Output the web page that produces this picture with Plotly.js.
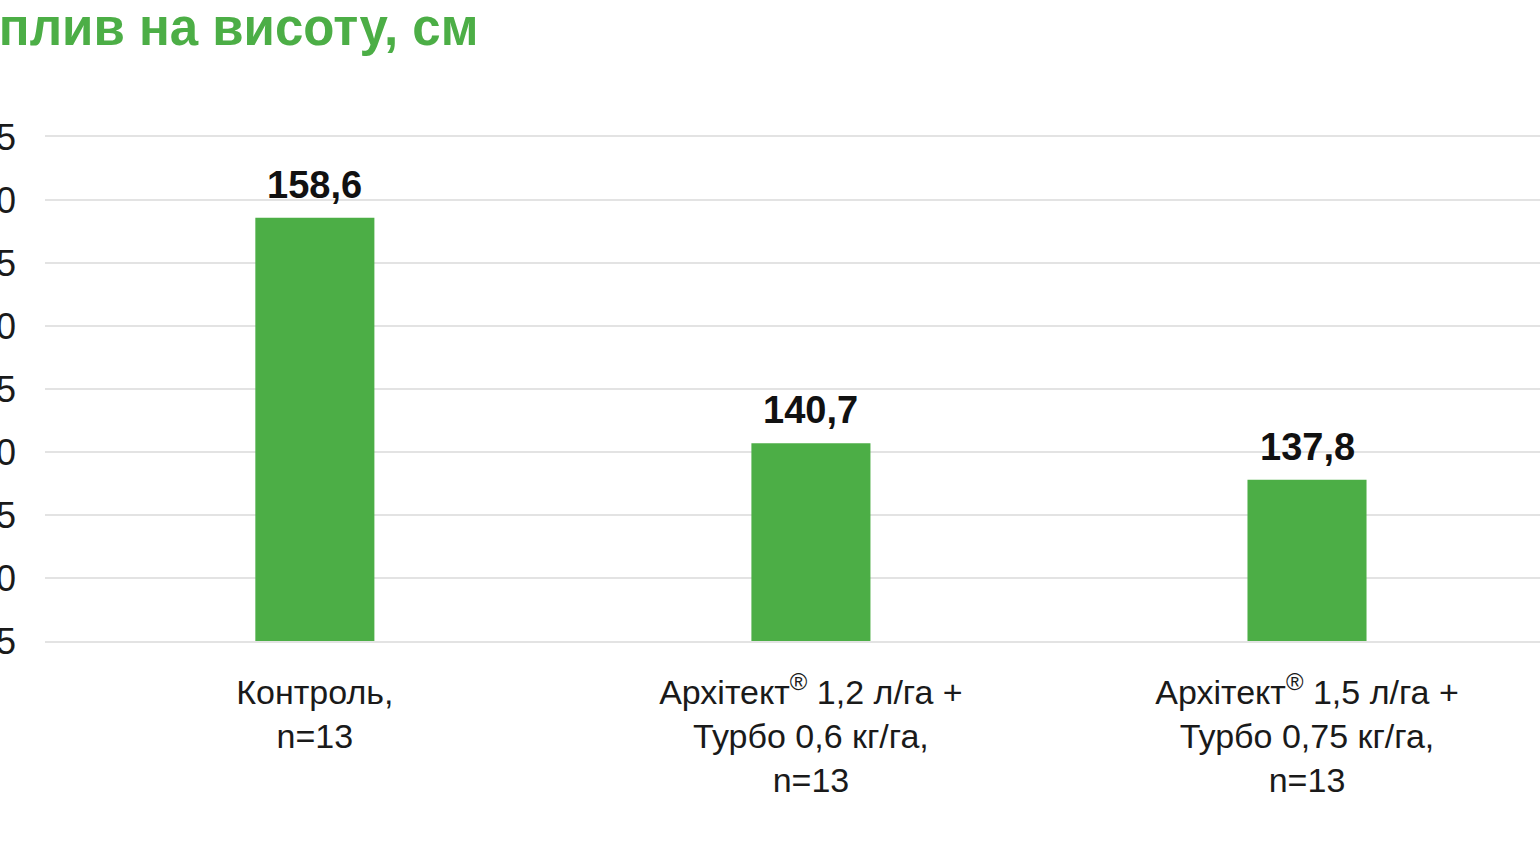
<!DOCTYPE html>
<html>
<head>
<meta charset="utf-8">
<script src="https://cdn.plot.ly/plotly-3.0.1.min.js"></script>
<style>
   body { margin: 0; overflow: hidden; background: #ffffff; }
   #plot { position: absolute; left: -100px; top: 0; width: 1700px; height: 866px; }
</style>
</head>
<body>
<div id="plot"></div>
<script>
// treatments and mean plant height, cm
var categories = [
   'Контроль,<br>n=13',
   'Архітект<sup>®</sup> 1,2 л/га +<br>Турбо 0,6 кг/га,<br>n=13',
   'Архітект<sup>®</sup> 1,5 л/га +<br>Турбо 0,75 кг/га,<br>n=13'
]
var heights = [158.6, 140.7, 137.8]
var tick_values = [125, 130, 135, 140, 145, 150, 155, 160, 165]

var green = '#4cae46'
var grid_grey = '#e3e3e3'
var label_text = heights.map(function(v) { return v.toFixed(1).replace('.', ',') })

var plotDiv = document.getElementById('plot')

var bar_trace = {
   type: 'bar',
   x: [0, 1, 2],
   y: heights,
   width: 0.24,
   marker: {color: green, line: {width: 0}},
   hoverinfo: 'x+y'
}

// value labels sit on top of each bar, a bit higher than plotly's own outside text
var value_labels = heights.map(function(v, i) {
   return {
      x: i,
      y: v,
      xref: 'x',
      yref: 'y',
      text: '<b>' + label_text[i] + '</b>',
      showarrow: false,
      yanchor: 'bottom',
      yshift: 10,
      font: {family: 'Liberation Sans', size: 38, color: '#111111'}
   }
})

var layout = {
   title: {
      text: '<b>Вплив на висоту, см</b>',
      font: {family: 'Liberation Sans', size: 51, color: green},
      x: 0,
      xref: 'container',
      xanchor: 'left',
      y: 0.969,
      yref: 'container',
      yanchor: 'middle',
      pad: {l: 62}
   },
   showlegend: false,
   margin: {l: 145, r: 40, t: 137, b: 225},
   paper_bgcolor: '#ffffff',
   plot_bgcolor: '#ffffff',
   annotations: value_labels,
   xaxis: {
      range: [-0.544, 2.51],
      tickmode: 'array',
      tickvals: [0, 1, 2],
      ticktext: categories,
      showgrid: false,
      zeroline: false,
      showline: true,
      mirror: true,
      linecolor: grid_grey,
      linewidth: 2,
      ticks: '',
      ticklabelstandoff: 20,
      tickfont: {family: 'Liberation Sans', size: 34, color: '#1a1a1a'}
   },
   yaxis: {
      range: [125, 165],
      tickmode: 'array',
      tickvals: tick_values,
      showgrid: true,
      gridcolor: grid_grey,
      gridwidth: 2,
      zeroline: false,
      showline: false,
      ticks: '',
      ticklabelstandoff: 28,
      tickfont: {family: 'Liberation Sans', size: 36, color: '#1a1a1a'}
   }
}

Plotly.newPlot(plotDiv, [bar_trace], layout, {displayModeBar: false, staticPlot: true})
</script>
</body>
</html>
